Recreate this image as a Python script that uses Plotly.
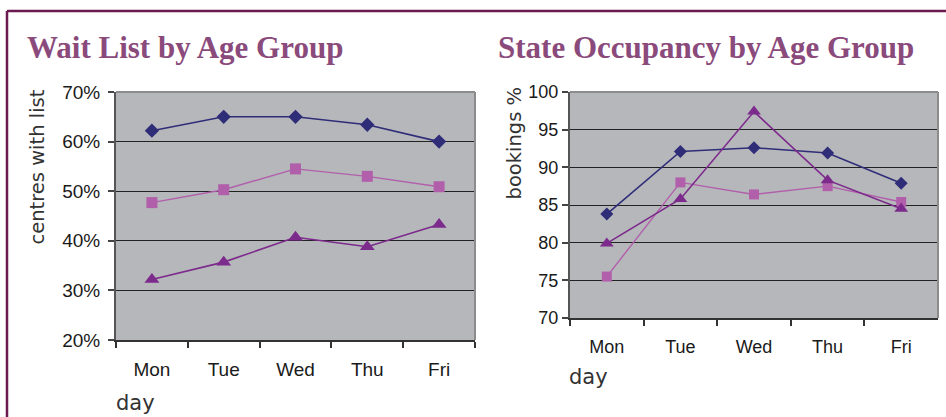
import plotly.graph_objects as go

days = ["Mon", "Tue", "Wed", "Thu", "Fri"]

# Wait list (% of centres with list)
wait_a = [0.622, 0.650, 0.650, 0.634, 0.600]   # navy diamonds
wait_b = [0.477, 0.503, 0.545, 0.530, 0.509]   # pink squares
wait_c = [0.322, 0.357, 0.407, 0.388, 0.433]   # purple triangles

# State occupancy (bookings %)
occ_a = [83.8, 92.1, 92.6, 91.9, 87.9]
occ_b = [75.5, 88.0, 86.4, 87.5, 85.4]
occ_c = [79.9, 85.8, 97.4, 88.3, 84.5]

W, H = 946, 417
NAVY = "#2f2d78"
PINK = "#b15fab"
PURP = "#7c2a8b"
BG = "#b6b7bb"
TITLE = "#8a4a7b"
FRAME = "#6b1a4f"
TXT = "#1a1a1a"

def px(x):
    return x / W

def py(y):
    return 1 - y / H

L = dict(x0=116, x1=475, y0=92, y1=340)
R = dict(x0=570, x1=938, y0=92, y1=318)

fig = go.Figure()

def add_series(vals, xa, ya, color, symbol, size, width):
    fig.add_trace(go.Scatter(
        x=days, y=vals, xaxis=xa, yaxis=ya, mode="lines+markers",
        line=dict(color=color, width=width),
        marker=dict(color=color, symbol=symbol, size=size),
        showlegend=False, cliponaxis=False))

add_series(wait_a, "x", "y", NAVY, "diamond", 11, 1.6)
add_series(wait_b, "x", "y", PINK, "square", 11, 1.4)
add_series(wait_c, "x", "y", PURP, "triangle-up", 13, 1.6)
add_series(occ_a, "x2", "y2", NAVY, "diamond", 10, 1.6)
add_series(occ_b, "x2", "y2", PINK, "square", 10, 1.4)
add_series(occ_c, "x2", "y2", PURP, "triangle-up", 12, 1.6)

tickfont_l = dict(family="Liberation Sans, Arial, sans-serif", size=19, color=TXT)
tickfont_r = dict(family="Liberation Sans, Arial, sans-serif", size=18, color=TXT)

xcommon = dict(type="category", range=[-0.5, 4.5], tickson="boundaries",
               ticks="outside", ticklen=6, tickcolor="#333", tickwidth=1.5,
               showline=True, linecolor="#333", linewidth=2, showgrid=False,
               zeroline=False, fixedrange=True, automargin=False)
ycommon = dict(ticks="outside", ticklen=6, tickcolor="#444", tickwidth=1.5,
               showline=True, linecolor="#555", linewidth=2, showgrid=True,
               gridcolor="#222", gridwidth=1, zeroline=False, fixedrange=True,
               automargin=False)

fig.update_layout(
    width=W, height=H, margin=dict(l=0, r=0, t=0, b=0, pad=0, autoexpand=False),
    paper_bgcolor="white", plot_bgcolor=BG, showlegend=False,
    xaxis=dict(domain=[px(L["x0"]), px(L["x1"])], anchor="y",
               tickfont=tickfont_l, ticklabelstandoff=11, **xcommon),
    yaxis=dict(domain=[py(L["y1"]), py(L["y0"])], anchor="x",
               range=[0.2, 0.7], dtick=0.1, tickformat=".0%",
               tickfont=tickfont_l, ticklabelstandoff=4, **ycommon),
    xaxis2=dict(domain=[px(R["x0"]), px(R["x1"])], anchor="y2",
                tickfont=tickfont_r, ticklabelstandoff=11, **xcommon),
    yaxis2=dict(domain=[py(R["y1"]), py(R["y0"])], anchor="x2",
                range=[70, 100], dtick=5,
                tickfont=tickfont_r, ticklabelstandoff=0, **ycommon),
)

shapes = []
# outer maroon frame (top and left)
shapes.append(dict(type="line", xref="paper", yref="paper",
                   x0=px(7), x1=1, y0=py(11), y1=py(11),
                   line=dict(color=FRAME, width=2.5)))
shapes.append(dict(type="line", xref="paper", yref="paper",
                   x0=px(7), x1=px(7), y0=py(11), y1=0,
                   line=dict(color=FRAME, width=2.5)))
# light gray top/right plot borders
for P in (L, R):
    shapes.append(dict(type="line", xref="paper", yref="paper",
                       x0=px(P["x0"]), x1=px(P["x1"]), y0=py(P["y0"]), y1=py(P["y0"]),
                       line=dict(color="#8c8c8c", width=2), layer="above"))
    shapes.append(dict(type="line", xref="paper", yref="paper",
                       x0=px(P["x1"]), x1=px(P["x1"]), y0=py(P["y0"]), y1=py(P["y1"]),
                       line=dict(color="#8c8c8c", width=2), layer="above"))
fig.update_layout(shapes=shapes)

ann = []
title_font = dict(family="Liberation Serif, Times New Roman, serif", size=31, color=TITLE)
ann.append(dict(text="<b>Wait List by Age Group</b>", x=px(25), y=py(48),
                xref="paper", yref="paper", xanchor="left", yanchor="middle",
                showarrow=False, font=title_font))
ann.append(dict(text="<b>State Occupancy by Age Group</b>", x=px(496), y=py(48),
                xref="paper", yref="paper", xanchor="left", yanchor="middle",
                showarrow=False, font=title_font))
lbl_font = dict(family="DejaVu Sans, Verdana, sans-serif", size=19.5, color="#333")
day_font = dict(family="DejaVu Sans, Verdana, sans-serif", size=21, color="#333")
ann.append(dict(text="centres with list", x=px(37), y=py(88), textangle=-90,
                xref="paper", yref="paper", xanchor="center", yanchor="top",
                showarrow=False, font=lbl_font))
ann.append(dict(text="day", x=px(114), y=py(403),
                xref="paper", yref="paper", xanchor="left", yanchor="middle",
                showarrow=False, font=day_font))
ann.append(dict(text="bookings %", x=px(514), y=py(85), textangle=-90,
                xref="paper", yref="paper", xanchor="center", yanchor="top",
                showarrow=False, font=lbl_font))
ann.append(dict(text="day", x=px(567), y=py(377),
                xref="paper", yref="paper", xanchor="left", yanchor="middle",
                showarrow=False, font=day_font))
fig.update_layout(annotations=ann)

fig.write_html(
    "out.html",
    config={"displayModeBar": False, "responsive": False},
    post_script="document.body.style.margin='0';document.body.style.padding='0';document.body.style.overflow='hidden';",
)
